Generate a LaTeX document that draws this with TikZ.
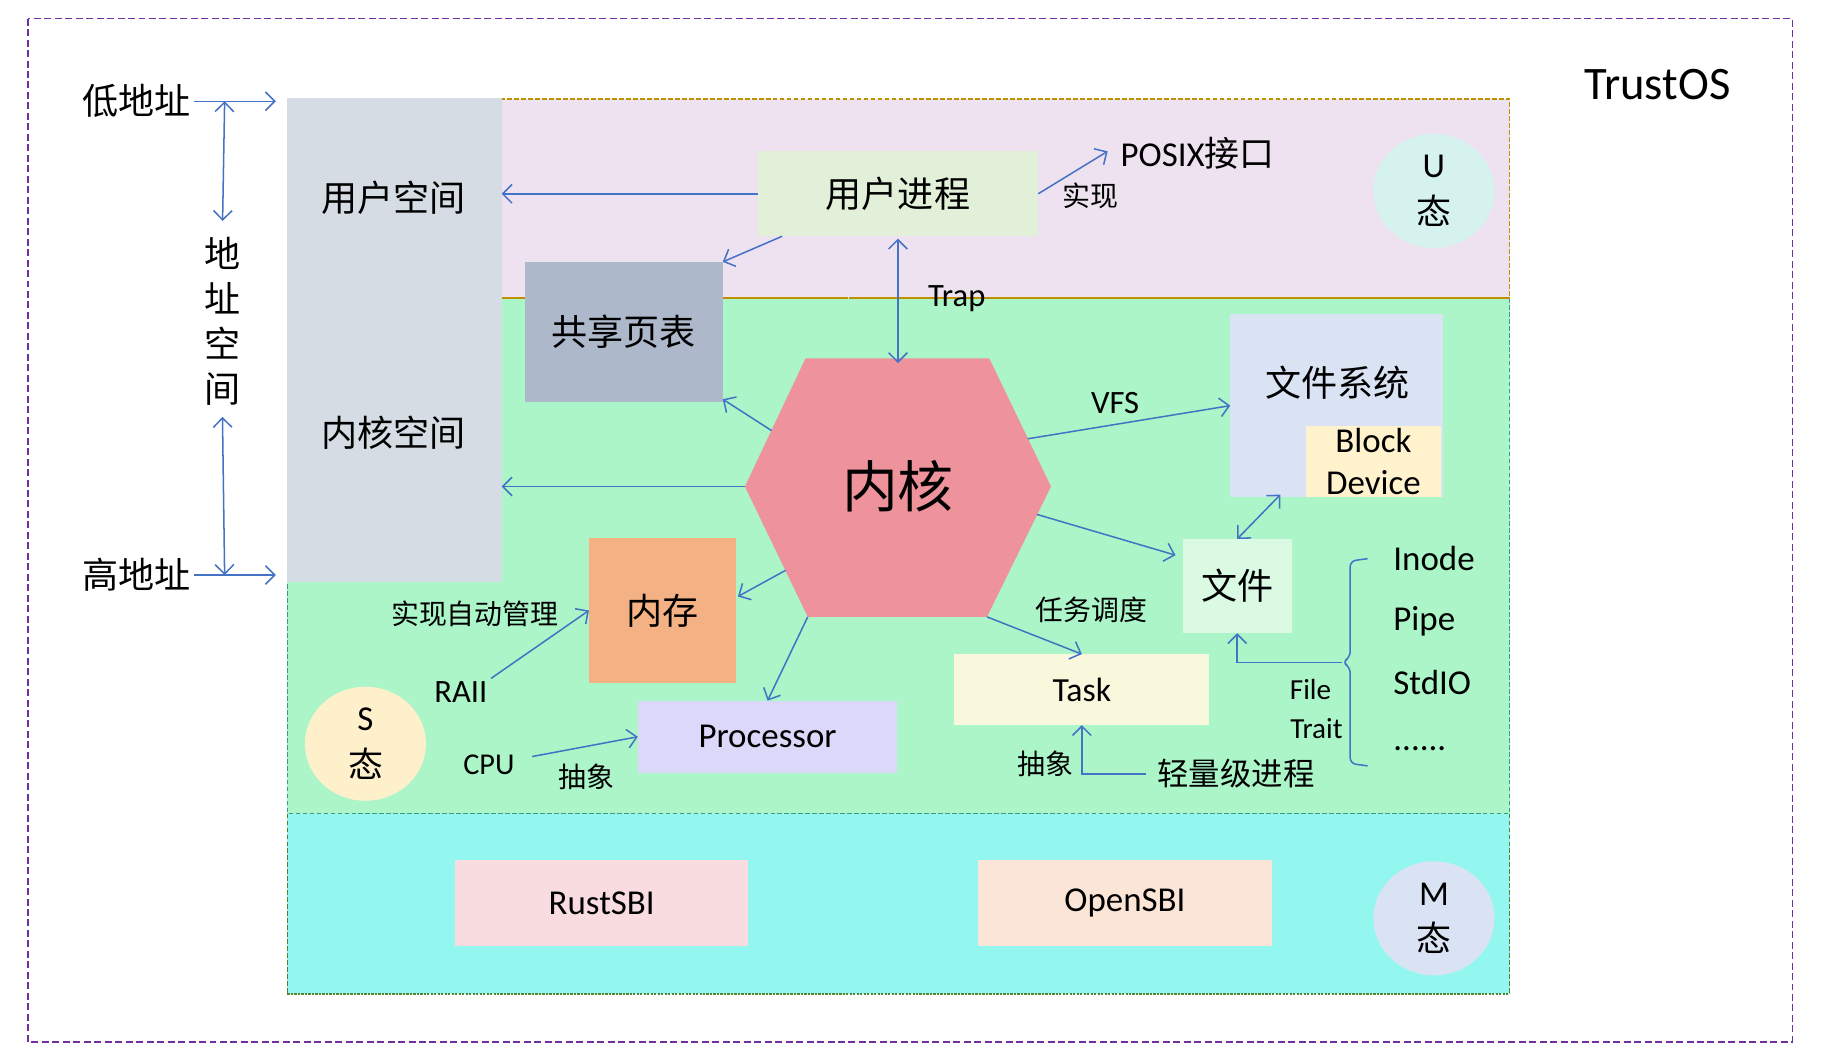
\documentclass[tikz,border=0pt]{standalone}
\usepackage{fontspec}
\setmainfont{Carlito}
\newfontfamily\cjk{Noto Sans CJK SC}
\usetikzlibrary{arrows.meta,calc,shapes.geometric}
\definecolor{ablue}{HTML}{4472C4}
\definecolor{opurple}{HTML}{7030A0}
\definecolor{ugold}{HTML}{BF9000}
\definecolor{steal}{HTML}{3A9A88}
\definecolor{molive}{HTML}{548235}
\definecolor{ufill}{HTML}{EEE2F0}
\definecolor{sfill}{HTML}{ABF5C9}
\definecolor{mfill}{HTML}{94F7EF}
\definecolor{addrfill}{HTML}{D5DCE4}
\definecolor{uprfill}{HTML}{E2F0D9}
\definecolor{sharefill}{HTML}{ADB9CA}
\definecolor{kernfill}{HTML}{EE939C}
\definecolor{memfill}{HTML}{F4B183}
\definecolor{procfill}{HTML}{DCD8FA}
\definecolor{taskfill}{HTML}{FAF8DC}
\definecolor{filefill}{HTML}{DAFAE3}
\definecolor{fsfill}{HTML}{DAE3F3}
\definecolor{bdfill}{HTML}{FFF2CC}
\definecolor{uellfill}{HTML}{D5F2EE}
\definecolor{sellfill}{HTML}{FFF0CC}
\definecolor{mellfill}{HTML}{DAE3F3}
\definecolor{rustfill}{HTML}{F8DCE0}
\definecolor{openfill}{HTML}{FBE5D6}
\tikzset{
  rbox/.style={inner sep=0pt, outer sep=0pt, draw=none},
  cjkL/.style={font=\fontsize{31}{38.5}\selectfont\cjk},
  cjkM/.style={font=\fontsize{27}{32}\selectfont\cjk},
  cjkS/.style={font=\fontsize{24}{29}\selectfont\cjk},
  latL/.style={font=\fontsize{30}{36}\selectfont},
  latM/.style={font=\fontsize{28}{34}\selectfont},
  latS/.style={font=\fontsize{25}{34}\selectfont},
  arr/.style={draw=ablue, line width=1.3pt, -{Straight Barb[length=8pt,width=16pt,line width=1.3pt]}},
  darr/.style={draw=ablue, line width=1.3pt, {Straight Barb[length=8pt,width=16pt,line width=1.3pt]}-{Straight Barb[length=8pt,width=16pt,line width=1.3pt]}},
  ell/.style={ellipse, minimum width=104pt, minimum height=98pt, inner sep=0pt, align=center, font=\fontsize{30}{38}\selectfont},
  lab/.style={inner sep=3pt},
}
\begin{document}
\begin{tikzpicture}[x=1pt,y=-1pt]
\useasboundingbox (0,0) rectangle (1568,913);
\fill[white] (0,0) rectangle (1568,913);
% outer frame
\draw[opurple, line width=1.4pt, dash pattern=on 6pt off 3pt] (24,16) rectangle (1540,895);
\node[font=\fontsize{40}{48}\selectfont] (title) at (1424,73) {TrustOS};
% privilege layers
\fill[ufill] (247,85) rectangle (1297,256);
\fill[sfill] (247,256) rectangle (1297,699);
\fill[mfill] (247,699) rectangle (1297,854);
\draw[ugold, line width=1pt, dash pattern=on 4pt off 2pt] (247,256) -- (247,85) -- (1297,85) -- (1297,256) -- cycle;
\draw[steal, line width=1pt, dash pattern=on 4pt off 2pt] (247,256) -- (247,699) -- (1297,699) -- (1297,256);
\draw[ugold, line width=1pt, dash pattern=on 4pt off 2pt] (431,256) -- (1297,256);
\draw[molive, line width=1pt, dash pattern=on 4pt off 2pt] (247,699) -- (247,854) (1297,699) -- (1297,854);
\draw[molive, line width=1.6pt, dash pattern=on 2pt off 1pt] (247,854) -- (1297,854);
% address column
\node[rbox, fill=addrfill, minimum width=184pt, minimum height=416pt] (addr) at (339,292) {};
\node[cjkL] (uspace) at (338,170) {用户空间};
\node[cjkL] (kspace) at (338,372) {内核空间};
\node[cjkL, lab] (lo) at (117,87) {低地址};
\node[cjkL, lab] (hi) at (117,494) {高地址};
\node[cjkL, align=center, inner sep=0pt] (vtext) at (191,276) {地\\址\\空\\间};
\coordinate (atop) at (193,87);
\coordinate (abot) at (193,494);
\draw[arr, shorten >=10pt] (lo.east) -- (lo.east -| addr.west);
\draw[arr, shorten >=10pt] (hi.east) -- (hi.east -| addr.west);
\draw[darr, shorten >=14pt] (atop) -- (vtext.north);
\draw[darr, shorten <=10pt] (vtext.south) -- (abot);
% user level
\node[rbox, fill=uprfill, minimum width=241pt, minimum height=73pt, cjkL] (upr) at (771.5,166.5) {用户进程};
\node[ell, fill=uellfill] (uell) at (1232,164) {U\\[2pt]{\cjk 态}};
\node[lab, font=\fontsize{30}{36}\selectfont] (posix) at (1029,132) {POSIX{\cjk 接口}};
\node[cjkS] (impl) at (937,168) {实现};
\draw[arr] (upr.east) -- ($(posix.west)+(-8,-2)$);
\draw[arr] (upr.west) -- (upr.west -| addr.east);
% shared page table
\node[rbox, fill=sharefill, minimum width=170pt, minimum height=120pt, cjkL] (share) at (536,285) {共享页表};
\draw[arr] ($(upr.south west)+(21,0)$) -- (share.north east);
% kernel hexagon
\coordinate (kA) at (692,308);
\coordinate (kB) at (850,308);
\coordinate (kC) at (903,418);
\coordinate (kD) at (848,530);
\coordinate (kE) at (694,530);
\coordinate (kF) at (640,418);
\fill[kernfill] (kA) -- (kB) -- (kC) -- (kD) -- (kE) -- (kF) -- cycle;
\node[font=\fontsize{48}{56}\selectfont\cjk] (kernel) at (771.5,418) {内核};
\coordinate (kT) at (771.5,312);
\coordinate (kS) at (663,370);
\coordinate (kM) at (675,490);
\coordinate (kV) at (883,377);
\coordinate (kW) at (891,442);
\node[latM] (trap) at (822,257) {Trap};
\draw[darr] ($(upr.south)+(0,2)$) -- (kT);
\draw[arr] (kS) -- ($(share.south east)+(0,-2)$);
\draw[arr] (kF) -- (kF -| addr.east);
% file system
\node[rbox, fill=fsfill, minimum width=183pt, minimum height=157pt] (fs) at (1148.5,348.5) {};
\node[cjkL] (fsl) at (1149,329) {文件系统};
\node[rbox, fill=bdfill, minimum width=116pt, minimum height=61pt, align=center, font=\fontsize{30}{36}\selectfont] (bd) at (1180,396.5) {Block\\Device};
\node[latM] (vfs) at (958,346) {VFS};
\draw[arr] (kV) -- (fs.west);
\node[rbox, fill=filefill, minimum width=94pt, minimum height=81pt, cjkL] (file) at (1063,503.5) {文件};
\draw[arr] (kW) -- ($(file.north west)+(-6,14)$);
\draw[darr] (file.north) -- ($(fs.south west)+(43,-2)$);
% file trait
\node[latL, anchor=base west, inner sep=0pt] (inode) at (1197,490) {Inode};
\node[latL, anchor=base west, inner sep=0pt] (pipe) at (1197,542) {Pipe};
\node[latL, anchor=base west, inner sep=0pt] (stdio) at (1197,597) {StdIO};
\node[latL, anchor=base west, inner sep=0pt] (dots) at (1197,645) {......};
\draw[ablue, line width=1.3pt, rounded corners=5pt] (1175,480) -- (1160,482) -- (1160,565) -- (1153,569) -- (1160,573) -- (1160,656) -- (1175,658);
\coordinate (bt) at (1153,569);
\draw[arr] (bt) -| (file.south);
\node[latS] (ftf) at (1126,592) {File};
\node[latS] (ftt) at (1131,626) {Trait};
% task
\node[rbox, fill=taskfill, minimum width=219pt, minimum height=61pt, font=\fontsize{29}{34}\selectfont] (task) at (929.5,592.5) {Task};
\node[cjkS] (sched) at (938,524) {任务调度};
\draw[arr] (kD) -- (task.north);
\node[cjkM, inner sep=10pt] (lwp) at (1062,665) {轻量级进程};
\node[cjkS] (abs2) at (898,656) {抽象};
\draw[arr] (lwp.west) -| (task.south);
% memory
\node[rbox, fill=memfill, minimum width=126pt, minimum height=125pt, cjkL] (mem) at (569,524.5) {内存};
\draw[arr] (kM) -- ($(mem.east)+(2,-12)$);
\node[cjkS] (auto) at (408,527) {实现自动管理};
\node[latM, lab] (raii) at (396,595) {RAII};
\draw[arr] (raii.north east) -- (mem.west);
% processor
\node[rbox, fill=procfill, minimum width=223pt, minimum height=62pt, latL] (proc) at (659.5,633) {\raisebox{-2pt}{Processor}};
\draw[arr] (kE) -- (proc.north);
\node[font=\fontsize{26}{30}\selectfont, lab] (cpu) at (420,657) {CPU};
\node[cjkS] (abs1) at (504,667) {抽象};
\draw[arr] ($(cpu.east)+(12,-7)$) -- (proc.west);
\node[ell, fill=sellfill] (sell) at (314,639) {S\\[2pt]{\cjk 态}};
% machine level
\node[rbox, fill=rustfill, minimum width=252pt, minimum height=74pt, latL] (rust) at (517,776) {RustSBI};
\node[rbox, fill=openfill, minimum width=253pt, minimum height=74pt, latL] (open) at (966.5,776) {OpenSBI};
\node[ell, fill=mellfill] (mell) at (1232,789) {M\\[2pt]{\cjk 态}};
\end{tikzpicture}
\end{document}
